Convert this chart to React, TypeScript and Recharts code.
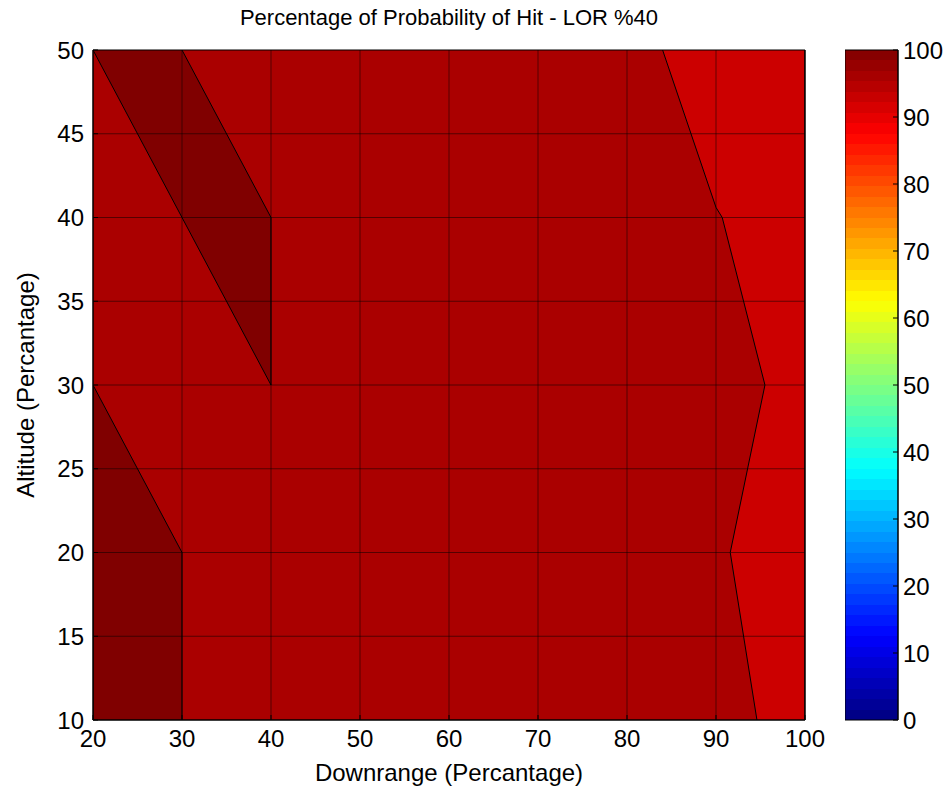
import { ComposedChart, Area, XAxis, YAxis, ReferenceLine, BarChart, Bar } from "recharts";

const FONT = '"Liberation Sans", Arial, Helvetica, sans-serif';

const downrangeTicks = [20, 30, 40, 50, 60, 70, 80, 90, 100];
const altitudeTicks = [10, 15, 20, 25, 30, 35, 40, 45, 50];
const colorbarTicks = [0, 10, 20, 30, 40, 50, 60, 70, 80, 90, 100];

// contour regions, each as [from, to] downrange span per altitude
const fieldAlt = [10, 50];
const fieldFrom = [20, 20];
const fieldTo = [100, 100];

const rightAlt = [10, 20, 30, 40, 40.6, 50];
const rightFrom = [94.6, 91.6, 95.5, 90.7, 90, 84];
const rightTo = [100, 100, 100, 100, 100, 100];

const topLeftAlt = [30, 40, 50];
const topLeftFrom = [40, 30, 20];
const topLeftTo = [40, 40, 30];

const bottomLeftAlt = [10, 20, 30];
const bottomLeftFrom = [20, 20, 20];
const bottomLeftTo = [30, 30, 20];

const colorbarData = [{ name: "Pk", value: 100 }];

const toRows = (alt: number[], from: number[], to: number[]) =>
  alt.map((a, i) => ({ alt: a, range: [from[i], to[i]] }));

const fieldRows = toRows(fieldAlt, fieldFrom, fieldTo);
const rightRows = toRows(rightAlt, rightFrom, rightTo);
const topLeftRows = toRows(topLeftAlt, topLeftFrom, topLeftTo);
const bottomLeftRows = toRows(bottomLeftAlt, bottomLeftFrom, bottomLeftTo);

// matlab jet colormap, 64 bands
const JET_N = 64;
const clamp = (v: number) => Math.max(0, Math.min(1, v));
const jet = (t: number) => {
  const r = clamp(1.5 - Math.abs(4 * t - 3));
  const g = clamp(1.5 - Math.abs(4 * t - 2));
  const b = clamp(1.5 - Math.abs(4 * t - 1));
  const h = (v: number) => Math.round(v * 255).toString(16).padStart(2, "0");
  return `#${h(r)}${h(g)}${h(b)}`;
};
const jetStops = Array.from({ length: JET_N }).flatMap((_, i) => {
  const c = jet((i + 0.5) / JET_N);
  return [
    <stop key={`a${i}`} offset={i / JET_N} stopColor={c} />,
    <stop key={`b${i}`} offset={(i + 1) / JET_N} stopColor={c} />,
  ];
});

const tickFont = { fill: "#000", fontSize: 24, fontFamily: FONT };
const blackLine = { stroke: "#000", strokeWidth: 1 };
const gridLine = { stroke: "#000", strokeOpacity: 0.5, strokeWidth: 1 };

export default function App() {
  return (
    <div style={{ position: "absolute", left: 0, top: 0, width: 949, height: 789, background: "#fff", fontFamily: FONT }}>
      <div
        style={{
          position: "absolute",
          left: 0,
          top: 7,
          width: 898,
          textAlign: "center",
          fontSize: 22,
          lineHeight: "22px",
          color: "#000",
        }}
      >
        Percentage of Probability of Hit - LOR %40
      </div>

      <div style={{ position: "absolute", left: 0, top: 0 }}>
        <ComposedChart
          layout="vertical"
          width={830}
          height={789}
          margin={{ top: 50, right: 25, bottom: 39, left: 0 }}
        >
          <XAxis
            type="number"
            domain={[20, 100]}
            ticks={downrangeTicks}
            interval={0}
            allowDataOverflow
            height={30}
            tickSize={-5}
            tickMargin={15}
            tick={tickFont}
            tickLine={blackLine}
            axisLine={{ stroke: "#000", strokeWidth: 1.5 }}
          />
          <XAxis
            xAxisId="top"
            orientation="top"
            type="number"
            domain={[20, 100]}
            ticks={downrangeTicks}
            allowDataOverflow
            height={0}
            tickSize={-5}
            tick={false}
            tickLine={blackLine}
            axisLine={blackLine}
          />
          <YAxis
            type="number"
            dataKey="alt"
            reversed
            domain={[10, 50]}
            ticks={altitudeTicks}
            interval={0}
            allowDataOverflow
            width={93}
            tickSize={-5}
            tickMargin={14}
            tick={tickFont}
            tickLine={blackLine}
            axisLine={{ stroke: "#000", strokeWidth: 1.5 }}
          />
          <YAxis
            yAxisId="right"
            orientation="right"
            type="number"
            dataKey="alt"
            reversed
            domain={[10, 50]}
            ticks={altitudeTicks}
            allowDataOverflow
            width={0}
            tickSize={-5}
            tick={false}
            tickLine={blackLine}
            axisLine={{ stroke: "#000", strokeWidth: 1.5 }}
          />
          <Area
            data={fieldRows}
            dataKey="range"
            type="linear"
            fill="#aa0000"
            fillOpacity={1}
            stroke="none"
            isAnimationActive={false}
          />
          <Area
            data={rightRows}
            dataKey="range"
            type="linear"
            fill="#cc0000"
            fillOpacity={1}
            stroke="#000"
            strokeWidth={1}
            isAnimationActive={false}
          />
          <Area
            data={topLeftRows}
            dataKey="range"
            type="linear"
            fill="#800000"
            fillOpacity={1}
            stroke="#000"
            strokeWidth={1}
            isAnimationActive={false}
          />
          <Area
            data={bottomLeftRows}
            dataKey="range"
            type="linear"
            fill="#800000"
            fillOpacity={1}
            stroke="#000"
            strokeWidth={1}
            isAnimationActive={false}
          />
          {downrangeTicks.slice(1, -1).map((x) => (
            <ReferenceLine key={`gx${x}`} x={x} {...gridLine} />
          ))}
          {altitudeTicks.slice(1, -1).map((y) => (
            <ReferenceLine key={`gy${y}`} y={y} {...gridLine} />
          ))}
          <ReferenceLine y={50} stroke="#000" strokeWidth={1} />
          <ReferenceLine x={100} stroke="#000" strokeWidth={1.5} />
        </ComposedChart>
      </div>

      <div style={{ position: "absolute", left: 845, top: 0 }}>
        <BarChart
          width={104}
          height={789}
          data={colorbarData}
          margin={{ top: 50, right: 0, bottom: 69, left: 0 }}
          barCategoryGap={0}
        >
          <defs>
            <linearGradient id="jet" x1="0" y1="1" x2="0" y2="0">
              {jetStops}
            </linearGradient>
          </defs>
          <XAxis dataKey="name" hide />
          <YAxis
            yAxisId="cb"
            orientation="right"
            type="number"
            domain={[0, 100]}
            ticks={colorbarTicks}
            interval={0}
            width={51}
            tickSize={-5}
            tickMargin={10}
            tick={{ ...tickFont, textAnchor: "start" }}
            tickLine={blackLine}
            axisLine={blackLine}
          />
          <YAxis
            yAxisId="cbLeft"
            orientation="left"
            type="number"
            domain={[0, 100]}
            ticks={colorbarTicks}
            width={0}
            tickSize={-5}
            tick={false}
            tickLine={blackLine}
            axisLine={blackLine}
          />
          <Bar yAxisId="cb" dataKey="value" fill="url(#jet)" stroke="#000" strokeWidth={1} isAnimationActive={false} />
        </BarChart>
      </div>

      <div
        style={{
          position: "absolute",
          left: 0,
          top: 761,
          width: 898,
          textAlign: "center",
          fontSize: 24,
          lineHeight: "24px",
          color: "#000",
        }}
      >
        Downrange (Percantage)
      </div>
      <div
        style={{
          position: "absolute",
          left: 26 - 335,
          top: 385 - 12,
          width: 670,
          height: 24,
          textAlign: "center",
          fontSize: 24,
          lineHeight: "24px",
          color: "#000",
          transform: "rotate(-90deg)",
        }}
      >
        Altitude (Percantage)
      </div>
    </div>
  );
}
